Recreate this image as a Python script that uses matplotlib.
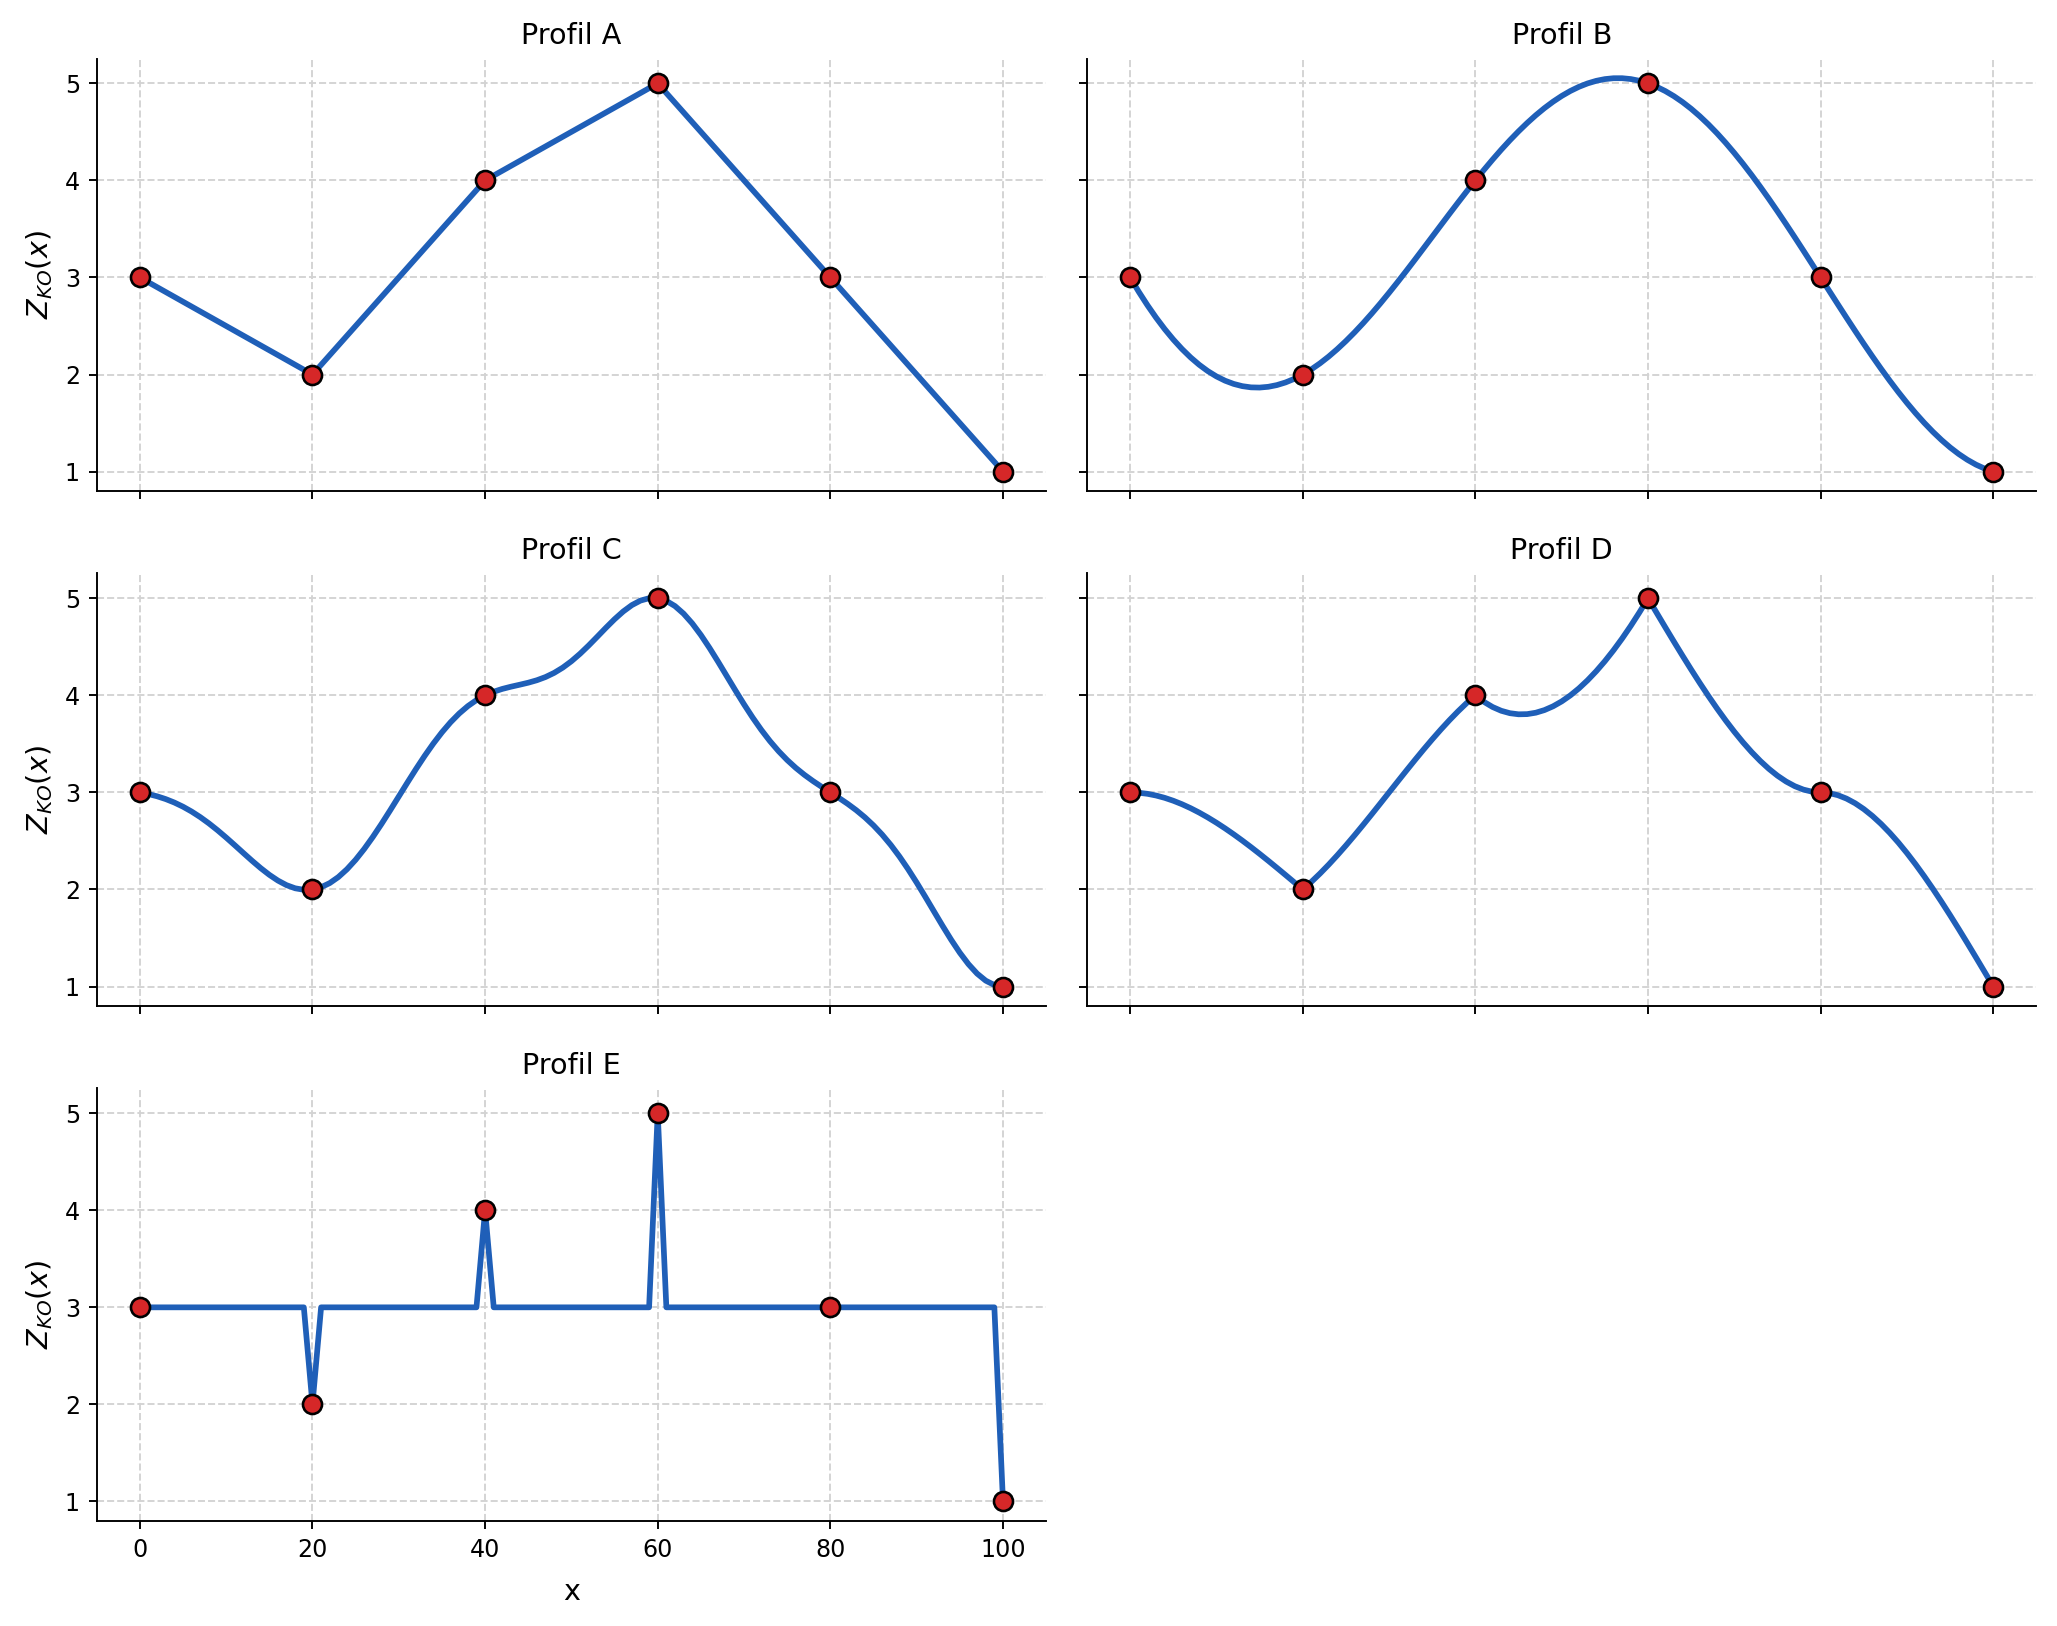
import numpy as np
import matplotlib
matplotlib.use("Agg")
import matplotlib.pyplot as plt

# Observed points (same for every profile)
x_obs = [0, 20, 40, 60, 80, 100]
z_obs = [3, 2, 4, 5, 3, 1]

# Profile titles and the variogram used for each
profiles = ["Profil A", "Profil B", "Profil C", "Profil D", "Profil E"]
models = ["linear", "gaussian", "gaussian", "spherical", "nugget"]
ranges = [None, 67.0, 11.43, 20.0, None]

# Estimation grid
x_grid = np.linspace(0, 100, 101)


def variogram(h, model, r):
    if model == "linear":
        return h
    if model == "gaussian":
        return 1 - np.exp(-(h / r) ** 2)
    if model == "spherical":
        return np.where(h < r, 1.5 * h / r - 0.5 * (h / r) ** 3, 1.0)
    # pure nugget
    return np.where(h > 0, 1.0, 0.0)


def ordinary_kriging(model, r):
    xo = np.asarray(x_obs, float)
    n = len(xo)
    A = np.ones((n + 1, n + 1))
    A[-1, -1] = 0
    A[:n, :n] = variogram(np.abs(xo[:, None] - xo[None, :]), model, r)
    b = np.ones((n + 1, len(x_grid)))
    b[:n] = variogram(np.abs(xo[:, None] - x_grid[None, :]), model, r)
    w = np.linalg.lstsq(A, b, rcond=None)[0]
    return np.asarray(z_obs, float) @ w[:n]


fig, axes = plt.subplots(3, 2, sharex=True, sharey=True,
                         figsize=(2057 / 171.4, 1626 / 171.4), dpi=171.4)
fig.subplots_adjust(left=0.047, right=0.99, top=0.964, bottom=0.0645,
                    hspace=0.19, wspace=0.043)
flat = axes.ravel()

for i, name in enumerate(profiles):
    ax = flat[i]
    z_est = ordinary_kriging(models[i], ranges[i])
    ax.plot(x_grid, z_est, color="#1f5fb8", lw=2.4, zorder=2)
    ax.plot(x_obs, z_obs, "o", color="#d62728", markeredgecolor="black",
            markeredgewidth=1.1, markersize=8, zorder=3)
    ax.set_title(name, fontsize=12)
    ax.grid(True, ls="--", color="#d3d3d3", lw=0.8)
    ax.spines["top"].set_visible(False)
    ax.spines["right"].set_visible(False)
    if i % 2 == 0:
        ax.set_ylabel("$Z_{KO}(x)$", fontsize=12)

flat[4].set_xlabel("x", fontsize=12, labelpad=7)
flat[4].set_xticks([0, 20, 40, 60, 80, 100])
flat[4].set_yticks([1, 2, 3, 4, 5])
fig.delaxes(flat[5])

fig.savefig("out.png", dpi=171.4)
